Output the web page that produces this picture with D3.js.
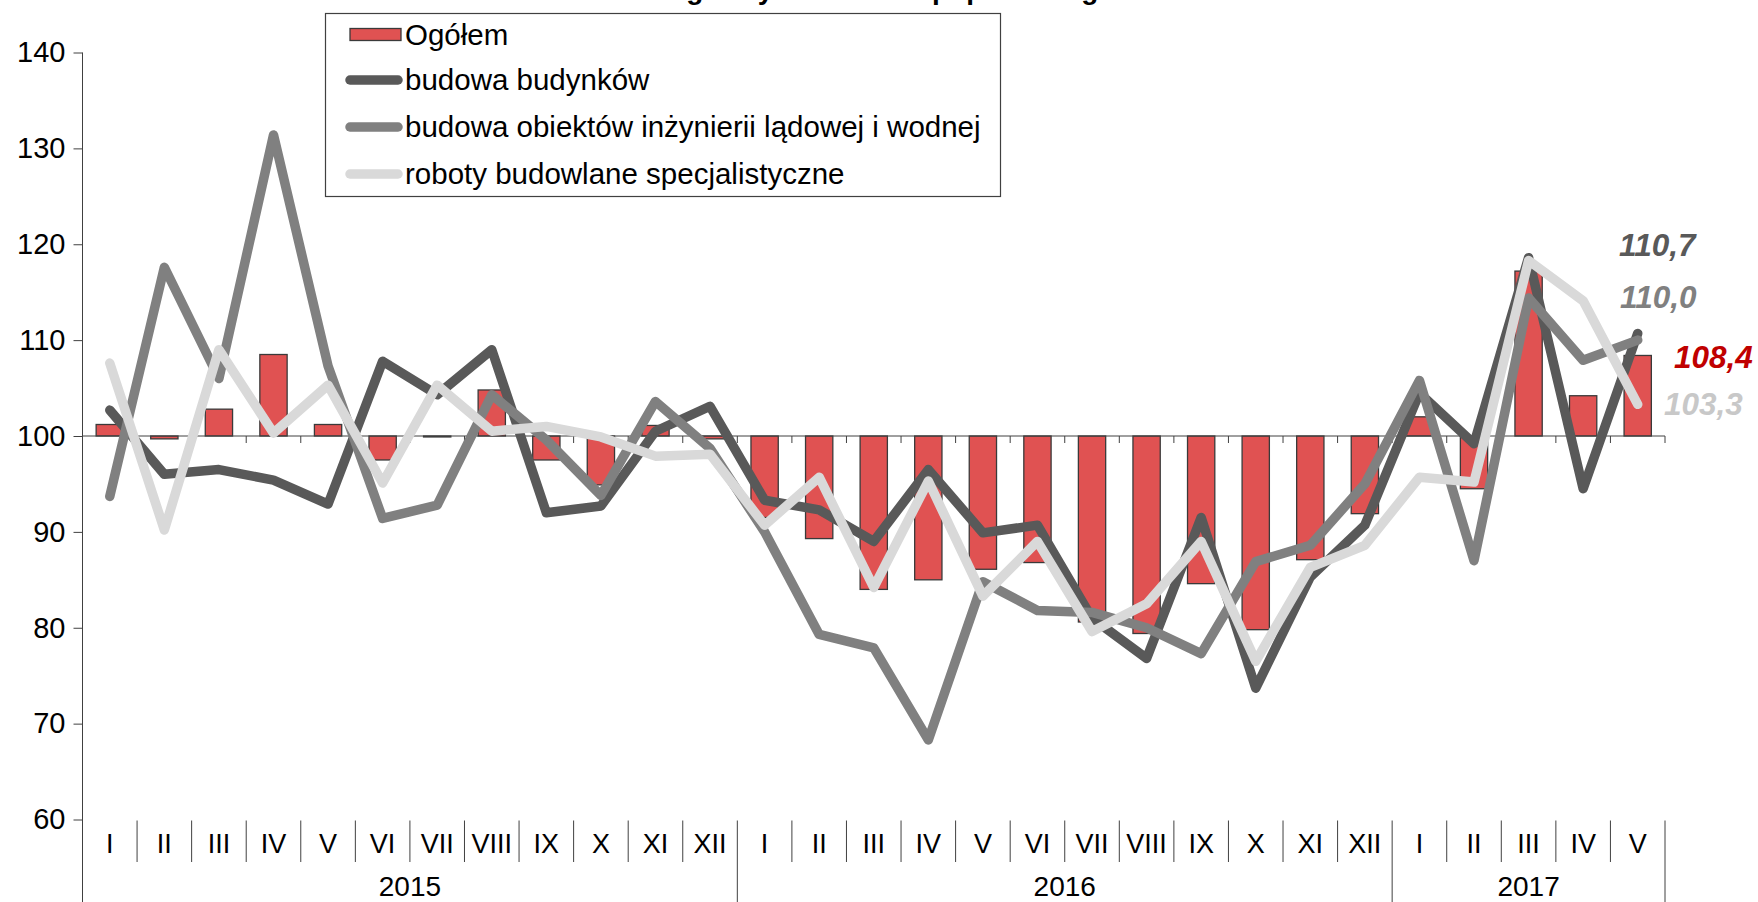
<!DOCTYPE html>
<html>
<head>
<meta charset="utf-8">
<script src="https://cdn.jsdelivr.net/npm/d3@7"></script>
<style>
  html, body { margin: 0; padding: 0; background: #fff; }
  svg { display: block; font-family: "Liberation Sans", Arial, sans-serif; }
</style>
</head>
<body>
<svg id="chart" width="1758" height="902"></svg>
<script>
// Monthly indices, same period of previous year = 100
const months = ["I","II","III","IV","V","VI","VII","VIII","IX","X","XI","XII",
                "I","II","III","IV","V","VI","VII","VIII","IX","X","XI","XII",
                "I","II","III","IV","V"];
const years = [
  { label: "2015", start: 0, count: 12 },
  { label: "2016", start: 12, count: 12 },
  { label: "2017", start: 24, count: 5 }
];
const yTicks = [60, 70, 80, 90, 100, 110, 120, 130, 140];

const ogolem = [101.2, 99.7, 102.8, 108.5, 101.2, 97.5, 99.9, 104.8, 97.5, 94.9, 101.1, 99.7,
                91.5, 89.3, 84.0, 85.0, 86.1, 86.8, 80.6, 79.4, 84.6, 79.8, 87.1, 91.9,
                102.0, 94.5, 117.2, 104.2, 108.4];
const budynki = [102.7, 96.0, 96.5, 95.4, 92.9, 107.8, 104.3, 109.0, 92.0, 92.7, 100.5, 103.1,
                 93.3, 92.3, 89.0, 96.5, 89.9, 90.7, 81.0, 76.8, 91.5, 73.7, 85.3, 90.7,
                 104.5, 99.2, 118.6, 94.5, 110.7];
const inzynieria = [93.7, 117.6, 106.0, 131.4, 107.3, 91.4, 92.8, 104.3, 99.6, 93.8, 103.6, 98.7,
                    90.0, 79.3, 77.9, 68.3, 84.8, 81.8, 81.6, 80.0, 77.3, 86.9, 88.6, 95.0,
                    105.8, 87.0, 114.4, 107.9, 110.0];
const specjalistyczne = [107.6, 90.2, 109.0, 100.3, 105.3, 95.1, 105.3, 100.5, 101.0, 99.9, 97.9, 98.1,
                         90.7, 95.7, 84.2, 95.3, 83.3, 89.0, 79.6, 82.5, 89.0, 76.5, 86.3, 88.6,
                         95.7, 95.2, 118.3, 114.1, 103.3];

const seriesNames = ["Ogółem", "budowa budynków", "budowa obiektów inżynierii lądowej i wodnej", "roboty budowlane specjalistyczne"];
const lastLabels = ["110,7", "110,0", "108,4", "103,3"];
const titleText = "analogiczny okres roku poprzedniego = 100";

const colors = { bar: "#e05252", barStroke: "#3a3a3a", dark: "#595959", mid: "#808080", light: "#d9d9d9", red: "#c00000", lightLabel: "#c8c8c8" };

const svg = d3.select("#chart");
const plotL = 82.5, plotR = 1665, plotT = 52.5, plotB = 819.5;
const x = d3.scaleBand().domain(d3.range(months.length)).range([plotL, plotR]).paddingInner(0).paddingOuter(0);
const y = d3.scaleLinear().domain([60, 140]).range([plotB, plotT]);
const bw = x.bandwidth();

// title line sits above the top edge; only its descenders reach into view
svg.append("text").attr("x", 613).attr("y", -1)
  .attr("font-size", 28).attr("font-weight", "bold").attr("fill", "#000").text(titleText);

// y axis
const yAxis = d3.axisLeft(y).tickValues(yTicks).tickSize(9).tickPadding(8).tickFormat(d3.format("d"));
const gy = svg.append("g").attr("transform", `translate(${plotL},0)`).call(yAxis);
gy.select(".domain").remove();
gy.selectAll(".tick line").attr("stroke", "#404040");
gy.selectAll(".tick text").attr("font-size", 29).attr("fill", "#000").attr("font-family", "Liberation Sans, Arial, sans-serif");
svg.append("line").attr("x1", plotL).attr("x2", plotL).attr("y1", plotT).attr("y2", 902).attr("stroke", "#404040").attr("stroke-width", 1);

// bars around the 100 baseline
svg.append("g").selectAll("rect").data(ogolem).join("rect")
  .attr("x", (d, i) => x(i) + bw * 0.25)
  .attr("width", bw * 0.5)
  .attr("y", d => y(Math.max(d, 100)))
  .attr("height", d => Math.abs(y(d) - y(100)))
  .attr("fill", colors.bar).attr("stroke", colors.barStroke).attr("stroke-width", 1.3);

// category axis at 100 with ticks on boundaries
svg.append("line").attr("x1", plotL).attr("x2", plotR).attr("y1", y(100)).attr("y2", y(100)).attr("stroke", "#404040").attr("stroke-width", 1);
svg.append("g").selectAll("line").data(d3.range(1, months.length + 1)).join("line")
  .attr("x1", i => plotL + i * bw).attr("x2", i => plotL + i * bw)
  .attr("y1", y(100)).attr("y2", y(100) + 7).attr("stroke", "#404040");

// lines
const line = d3.line().x((d, i) => x(i) + bw / 2).y(d => y(d));
[[budynki, colors.dark], [inzynieria, colors.mid], [specjalistyczne, colors.light]].forEach(([data, c]) => {
  svg.append("path").datum(data).attr("d", line).attr("fill", "none")
    .attr("stroke", c).attr("stroke-width", 9.5).attr("stroke-linejoin", "round").attr("stroke-linecap", "round");
});

// month and year labels below the plot
const gm = svg.append("g");
gm.selectAll("text.m").data(months).join("text")
  .attr("x", (d, i) => x(i) + bw / 2).attr("y", 844).attr("dy", "0.35em")
  .attr("text-anchor", "middle").attr("font-size", 27).attr("fill", "#000").text(d => d);
const yearStarts = new Set(years.map(d => d.start));
gm.append("g").selectAll("line").data(d3.range(1, months.length).filter(i => !yearStarts.has(i))).join("line")
  .attr("x1", i => plotL + i * bw).attr("x2", i => plotL + i * bw)
  .attr("y1", plotB + 1).attr("y2", 862).attr("stroke", "#404040");
const yearEdges = years.map(d => d.start).slice(1).concat([months.length]);
gm.append("g").selectAll("line").data(yearEdges).join("line")
  .attr("x1", i => plotL + i * bw).attr("x2", i => plotL + i * bw)
  .attr("y1", plotB + 1).attr("y2", 902).attr("stroke", "#404040");
gm.append("g").selectAll("text").data(years).join("text")
  .attr("x", d => plotL + (d.start + d.count / 2) * bw).attr("y", 886).attr("dy", "0.35em")
  .attr("text-anchor", "middle").attr("font-size", 28).attr("fill", "#000").text(d => d.label);

// last value labels
const lbl = [
  { t: lastLabels[0], c: colors.dark, x: 1619, y: 256 },
  { t: lastLabels[1], c: colors.mid, x: 1620, y: 308 },
  { t: lastLabels[2], c: colors.red, x: 1674, y: 368 },
  { t: lastLabels[3], c: colors.lightLabel, x: 1664, y: 415 }
];
svg.append("g").selectAll("text").data(lbl).join("text")
  .attr("x", d => d.x).attr("y", d => d.y)
  .attr("font-size", 31.5).attr("font-weight", "bold").attr("font-style", "italic")
  .attr("fill", d => d.c).text(d => d.t);

// legend
const lg = svg.append("g");
lg.append("rect").attr("x", 325.5).attr("y", 13.5).attr("width", 675).attr("height", 183)
  .attr("fill", "#fff").attr("stroke", "#404040").attr("stroke-width", 1.2);
const ly = [34.5, 80, 127, 174];
lg.append("rect").attr("x", 350).attr("y", ly[0] - 6).attr("width", 51).attr("height", 12)
  .attr("fill", colors.bar).attr("stroke", colors.barStroke).attr("stroke-width", 1.3);
[colors.dark, colors.mid, colors.light].forEach((c, k) => {
  lg.append("line").attr("x1", 350).attr("x2", 398).attr("y1", ly[k + 1]).attr("y2", ly[k + 1])
    .attr("stroke", c).attr("stroke-width", 9.5).attr("stroke-linecap", "round");
});
lg.selectAll("text").data(seriesNames).join("text")
  .attr("x", 405).attr("y", (d, k) => ly[k]).attr("dy", "0.35em")
  .attr("font-size", 29.5).attr("fill", "#000").text(d => d);
</script>
</body>
</html>
